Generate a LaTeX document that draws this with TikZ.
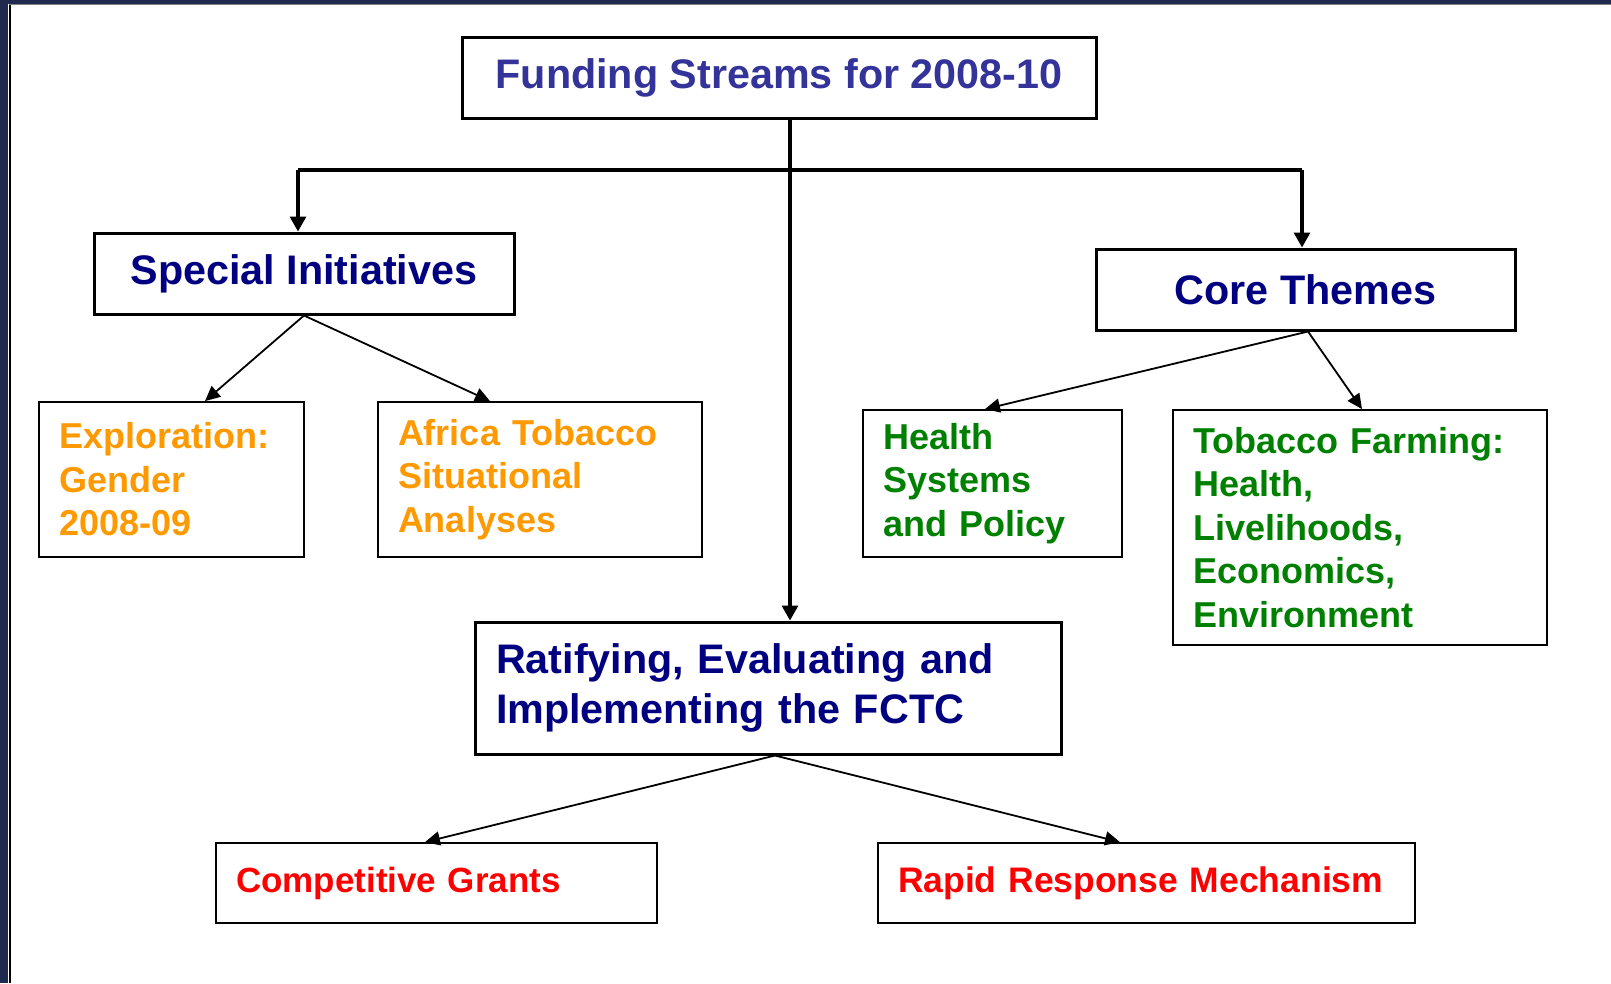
\documentclass[tikz,border=0pt]{standalone}
\usepackage{fontspec}
\setmainfont{Liberation Sans}
\usetikzlibrary{arrows.meta}
\definecolor{titleblue}{HTML}{333399}
\definecolor{navyblue}{HTML}{000080}
\definecolor{orng}{HTML}{FF9900}
\definecolor{grn}{HTML}{008000}
\definecolor{rd}{HTML}{FF0000}
\definecolor{framenavy}{HTML}{1F2A4E}
\begin{document}
\begin{tikzpicture}[x=1pt,y=-1pt,
  headbox/.style={draw=black, line width=3pt, rectangle, inner sep=0pt,
    font=\fontsize{41.3}{49.5}\selectfont\bfseries, text=navyblue},
  subbox/.style={draw=black, line width=1.8pt, rectangle, inner xsep=20pt, inner ysep=0pt,
    align=left, font=\fontsize{36}{43.4}\selectfont\bfseries},
  trunkline/.style={line width=3.2pt},
  mainarrow/.style={line width=3.2pt, -{Triangle[length=15pt,width=16pt]}},
  thinarrow/.style={line width=1.8pt, -{Triangle[length=15pt,width=14pt]}}
]
\useasboundingbox (0,0) rectangle (1611,983);
\fill[white] (0,0) rectangle (1611,983);
% frame
\fill[framenavy] (0,0) rectangle (8,983);
\fill[framenavy] (0,0) rectangle (1611,3.6);
\draw[black, line width=2.2pt] (9.6,4) -- (9.6,983);
\draw[gray, line width=1.2pt] (9,4.4) -- (1611,4.4);

% nodes
\node[headbox, text=titleblue, minimum width=634pt, minimum height=81pt] (title) at (779,77.5) {Funding Streams for 2008-10};
\node[headbox, minimum width=420pt, minimum height=81pt] (si) at (304,273.5) {Special Initiatives};
\node[headbox, minimum width=419pt, minimum height=81pt] (ct) at (1305.5,289.5) {Core Themes};
\node[headbox, align=left, inner xsep=21pt, text width=544pt, minimum height=132pt] (fctc) at (768,688)
  {Ratifying, Evaluating and\\Implementing the FCTC};

\node[subbox, text=orng, text width=225pt, minimum height=155pt] (expl) at (171.5,479.5)
  {Exploration:\\Gender\\2008-09};
\node[subbox, text=orng, text width=284pt, minimum height=155pt] (afr) at (540,479.5)
  {Africa Tobacco\\Situational\\Analyses};
\node[subbox, text=grn, text width=219pt, minimum height=147pt] (hsp) at (992.5,483.5)
  {Health\\Systems\\and Policy};
\node[subbox, text=grn, text width=334pt, minimum height=235pt] (tf) at (1360,527.5)
  {Tobacco Farming:\\Health,\\Livelihoods,\\Economics,\\Environment};
\node[subbox, text=rd, text width=401pt, minimum height=80pt, font=\fontsize{35}{42}\selectfont\bfseries] (cg) at (436.5,883)
  {Competitive Grants};
\node[subbox, text=rd, text width=497pt, minimum height=80pt, font=\fontsize{35.5}{42}\selectfont\bfseries] (rrm) at (1146.5,883)
  {Rapid Response Mechanism};

% coordinates
\coordinate (hub) at (790,170);
\coordinate (lbr) at (298,170);
\coordinate (rbr) at (1302,170);
\coordinate (xa) at (205,0);
\coordinate (xb) at (490,0);
\coordinate (xc) at (985,0);
\coordinate (xd) at (1362,0);
\coordinate (xe) at (775,0);
\coordinate (xf) at (425,0);
\coordinate (xg) at (1120,0);
\coordinate (xh) at (1308,0);

% main tree
\draw[trunkline] (title.south -| hub) -- (hub);
\draw[trunkline] (lbr) -- (rbr);
\draw[mainarrow] (lbr) -- (lbr |- si.north);
\draw[mainarrow] (rbr) -- (rbr |- ct.north);
\draw[mainarrow] (hub) -- (hub |- fctc.north);

% thin arrows
\draw[thinarrow] (si.south) -- (expl.north -| xa);
\draw[thinarrow] (si.south) -- (afr.north -| xb);
\draw[thinarrow] (ct.south -| xh) -- (hsp.north -| xc);
\draw[thinarrow] (ct.south -| xh) -- (tf.north -| xd);
\draw[thinarrow] (fctc.south -| xe) -- (cg.north -| xf);
\draw[thinarrow] (fctc.south -| xe) -- (rrm.north -| xg);
\end{tikzpicture}
\end{document}
